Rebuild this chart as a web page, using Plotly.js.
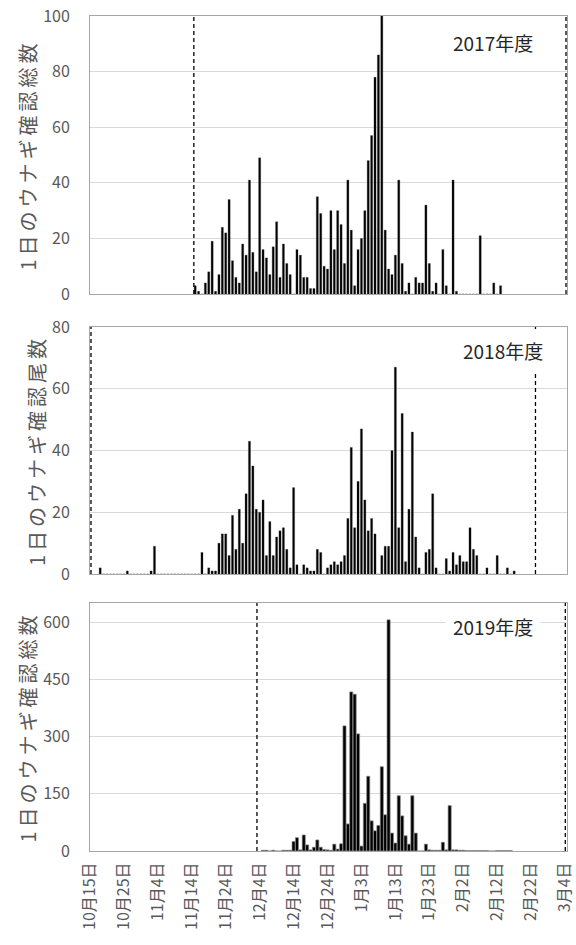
<!DOCTYPE html>
<html>
<head>
<meta charset="utf-8">
<script src="https://cdn.plot.ly/plotly-3.0.1.min.js"></script>
<style>
  html, body { margin: 0; padding: 0; background: #ffffff; }
  #chart { width: 576px; height: 945px; }
  #chart .ytitle, #chart .y2title, #chart .y3title { letter-spacing: 4px; }
</style>
</head>
<body>
<div id="chart"></div>
<script>
// ---------------- data ----------------
// x-axis tick dates (shared reference season calendar) and their labels
const tickDates = ['10-15','10-25','11-04','11-14','11-24','12-04','12-14','12-24',
                   '01-03','01-13','01-23','02-02','02-12','02-22','03-04'];
const tickLabels = ['10月15日','10月25日','11月4日','11月14日','11月24日','12月4日','12月14日','12月24日',
                    '1月3日','1月13日','1月23日','2月2日','2月12日','2月22日','3月4日'];

// 2017年度: daily counts starting 11-15
const start2017 = '11-15';
const counts2017 = [3,1,0,4,8,19,1,7,24,22,34,12,6,4,18,14,41,15,8,49,
                    16,13,7,17,26,6,18,11,7,0,16,14,6,6,2,2,35,29,10,9,
                    30,16,30,25,11,41,23,3,16,20,30,48,57,78,86,100,23,9,7,14,
                    41,11,1,4,0,6,4,4,32,11,1,4,0,16,3,0,41,1,0,0,
                    0,0,0,0,21,0,0,0,4,0,3];
// 2018年度: daily counts starting 10-18
const start2018 = '10-18';
const counts2018 = [2,0,0,0,0,0,0,0,1,0,0,0,0,0,0,1,9,0,0,0,
                    0,0,0,0,0,0,0,0,0,0,7,0,2,1,1,10,13,13,6,19,
                    8,21,10,26,43,35,21,20,24,6,17,6,12,14,15,8,2,28,3,0,
                    3,2,1,1,8,7,0,2,3,4,3,4,6,18,41,15,30,47,24,14,
                    18,13,0,6,9,9,40,67,15,52,4,21,46,12,2,0,7,8,26,2,
                    0,0,5,1,7,3,6,4,4,15,8,6,0,0,2,0,0,6,0,0,
                    2,0,1];
// 2019年度: daily counts starting 12-05
const start2019 = '12-05';
const counts2019 = [2,2,0,2,0,0,2,2,2,25,35,3,42,16,3,10,29,10,4,3,
                    2,18,5,19,328,71,417,411,307,13,125,196,79,53,67,221,95,606,47,21,
                    145,92,40,18,145,47,0,0,18,3,2,2,2,23,3,119,3,3,2,2,
                    1,1,1,1,1,1,1,0,0,1,1,1,1,1];

// survey period boundaries (dashed lines), [start, end] in reference calendar
const period2017 = ['11-14 14:30', '03-04 07:00'];
const period2018 = ['10-15 07:00', '02-23 07:00'];
const period2019 = ['12-03 05:00', '03-04 02:00'];

const seasonLabels = ['2017年度', '2018年度', '2019年度'];
const yTitles = ['1日のウナギ確認総数', '1日のウナギ確認尾数', '1日のウナギ確認総数'];

// ---------------- helpers ----------------
function refDate(md) {            // month-day -> date in reference season 2017/18
  const m = parseInt(md.slice(0, 2), 10);
  const year = m >= 10 ? 2017 : 2018;
  return year + '-' + md;
}
function addDays(md, n) {
  const d = new Date(refDate(md.slice(0,5)) + 'T00:00:00Z');
  d.setUTCDate(d.getUTCDate() + n);
  return d.toISOString().slice(0, 10);
}
function dailyX(startMD, arr) { return arr.map((_, i) => addDays(startMD, i)); }
function refStamp(s) { return refDate(s.slice(0, 5)) + s.slice(5); }

const DAY = 86400000;
const xRange = [refDate('10-15'), refDate('03-04') + ' 14:00'];

const tickColor = '#595959';
const fontFam = '"Noto Sans CJK JP", "Noto Sans", sans-serif';

const traces = [
  { type: 'bar', x: dailyX(start2017, counts2017), y: counts2017, xaxis: 'x', yaxis: 'y',
    width: DAY * 0.62, marker: { color: '#000000', line: { color: '#404040', width: 0.3 } }, hoverinfo: 'x+y' },
  { type: 'bar', x: dailyX(start2018, counts2018), y: counts2018, xaxis: 'x2', yaxis: 'y2',
    width: DAY * 0.62, marker: { color: '#000000', line: { color: '#404040', width: 0.3 } }, hoverinfo: 'x+y' },
  { type: 'bar', x: dailyX(start2019, counts2019), y: counts2019, xaxis: 'x3', yaxis: 'y3',
    width: DAY * 0.92, marker: { color: '#000000', line: { color: '#8c8c8c', width: 0.7 } }, hoverinfo: 'x+y' }
];

function xAxis(anchor, showLabels) {
  return {
    type: 'date', range: xRange, anchor: anchor,
    tickvals: tickDates.map(refDate), ticktext: tickLabels,
    showticklabels: showLabels, tickangle: -90,
    tickfont: { family: fontFam, size: 16, color: tickColor },
    ticklabelstandoff: 4, ticklabeloverflow: 'allow',
    showgrid: false, zeroline: false,
    showline: true, linecolor: '#a6a6a6', linewidth: 1, mirror: true,
    ticks: '', fixedrange: true
  };
}
function yAxis(anchor, domain, range, tickvals, title) {
  return {
    anchor: anchor, domain: domain, range: range, tickvals: tickvals,
    tickfont: { family: fontFam, size: 16, color: tickColor },
    showgrid: true, gridcolor: '#d9d9d9', gridwidth: 1,
    zeroline: false, showline: true, linecolor: '#a6a6a6', linewidth: 1, mirror: true,
    ticks: '', ticklabelstandoff: 16,
    title: { text: title, font: { family: fontFam, size: 20, color: tickColor }, standoff: 1 },
    fixedrange: true
  };
}

function vline(xref, yref, when) {
  return { type: 'line', xref: xref, yref: yref + ' domain', x0: when, x1: when, y0: 0, y1: 1,
           line: { color: '#000000', width: 1.3, dash: '4px,3px' } };
}

const shapes = [
  vline('x', 'y', refStamp(period2017[0])),
  vline('x', 'y', refStamp(period2017[1])),
  vline('x2', 'y2', refStamp(period2018[0])),
  vline('x2', 'y2', refStamp(period2018[1])),
  vline('x3', 'y3', refStamp(period2019[0])),
  vline('x3', 'y3', refStamp(period2019[1]))
];

function seasonNote(xref, yref, text, xFrac, yFrac) {
  return { xref: xref + ' domain', yref: yref + ' domain', x: xFrac, y: yFrac, text: text,
           showarrow: false, xanchor: 'center', yanchor: 'middle',
           font: { family: fontFam, size: 19, color: '#262626' },
           bgcolor: '#ffffff', borderpad: 7 };
}

const layout = {
  width: 576, height: 945,
  margin: { l: 90, r: 9, t: 16, b: 94 },
  paper_bgcolor: '#ffffff', plot_bgcolor: '#ffffff',
  showlegend: false, bargap: 0,
  font: { family: fontFam },
  xaxis: xAxis('y', false),
  xaxis2: xAxis('y2', false),
  xaxis3: xAxis('y3', true),
  yaxis: yAxis('x', [0.667, 1.0], [0, 100], [0, 20, 40, 60, 80, 100], yTitles[0]),
  yaxis2: yAxis('x2', [0.3317, 0.6275], [0, 80], [0, 20, 40, 60, 80], yTitles[1]),
  yaxis3: yAxis('x3', [0, 0.297], [0, 650], [0, 150, 300, 450, 600], yTitles[2]),
  shapes: shapes,
  annotations: [
    seasonNote('x', 'y', seasonLabels[0], 0.845, 0.905),
    seasonNote('x2', 'y2', seasonLabels[1], 0.865, 0.905),
    seasonNote('x3', 'y3', seasonLabels[2], 0.845, 0.905)
  ]
};

Plotly.newPlot('chart', traces, layout, { displayModeBar: false, staticPlot: true });
</script>
</body>
</html>
